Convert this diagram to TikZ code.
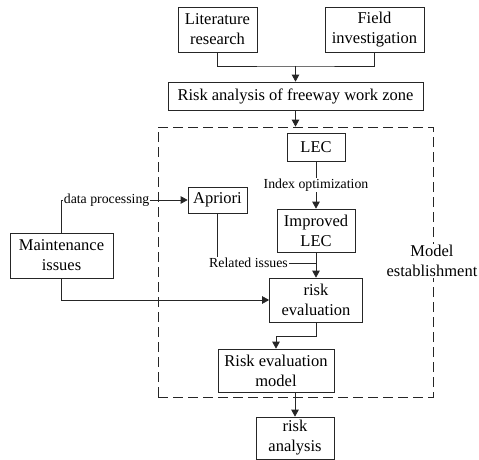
\documentclass[tikz,border=0pt]{standalone}
\usepackage{fontspec}
\setmainfont{Liberation Serif}
\usetikzlibrary{arrows.meta}

\tikzset{
    box/.style={draw, rectangle, align=center, inner sep=2pt, font=\fontsize{16.5}{20}\selectfont},
    lbl/.style={fill=white, inner sep=1pt, font=\fontsize{13.8}{16}\selectfont},
    side/.style={fill=white, align=center, inner sep=1pt, font=\fontsize{16.5}{20}\selectfont},
    >={Triangle[length=7pt, width=7.5pt]}
}

\begin{document}
\begin{tikzpicture}[x=1pt, y=-1pt, line width=0.7pt, draw=black!85]
    \useasboundingbox (0,0) rectangle (479,460);

    \node[draw, dash pattern=on 10pt off 5pt, minimum width=275pt, minimum height=270pt] (frame) at (295.5,262) {};
    \node[side] (estab) at (432,261) {Model\\establishment};

    \node[box, minimum width=79pt, minimum height=45pt] (lit) at (217.5,29.5) {Literature\\research};
    \node[box, minimum width=99pt, minimum height=45pt] (field) at (374.5,29.5) {Field\\investigation};
    \node[box, minimum width=255pt, minimum height=28pt] (riskana) at (295.5,96) {Risk analysis of freeway work zone};
    \node[box, minimum width=58pt, minimum height=28pt] (lec) at (316,147) {LEC};
    \node[box, minimum width=59pt, minimum height=26pt] (apriori) at (217.5,200) {Apriori};
    \node[box, minimum width=78pt, minimum height=43pt] (improved) at (316,230.5) {Improved\\LEC};
    \node[box, minimum width=103pt, minimum height=45pt] (maint) at (61.5,255.5) {Maintenance\\issues};
    \node[box, minimum width=93pt, minimum height=44pt] (riskeval) at (316,300) {risk\\evaluation};
    \node[box, minimum width=116pt, minimum height=43pt] (model) at (276,370.5) {Risk evaluation\\model};
    \node[box, minimum width=78pt, minimum height=42pt] (result) at (295,438) {risk\\analysis};

    \coordinate (merge) at (295.5,66);
    \coordinate (relmeet) at (316,263);

    \draw (lit.south) |- (merge) -| (field.south);
    \draw[->] (merge) -- (riskana.north);
    \draw[->] (riskana.south) -- (frame.north);
    \draw[->] (lec.south) -- node[lbl] {Index optimization} (improved.north);
    \draw[->] (maint.north) |- node[lbl, pos=0.5, anchor=west, xshift=1pt] {data processing} (apriori.west);
    \draw (apriori.south) |- node[lbl, pos=0.5, xshift=31pt] {Related issues} (relmeet);
    \draw[->] (improved.south) -- (riskeval.north);
    \draw[->] (maint.south) |- (riskeval.west);
    \draw[->] (riskeval.south) -- ++(0,14) -| (model.north);
    \draw[->] (result.north |- model.south) -- (result.north);
\end{tikzpicture}
\end{document}
